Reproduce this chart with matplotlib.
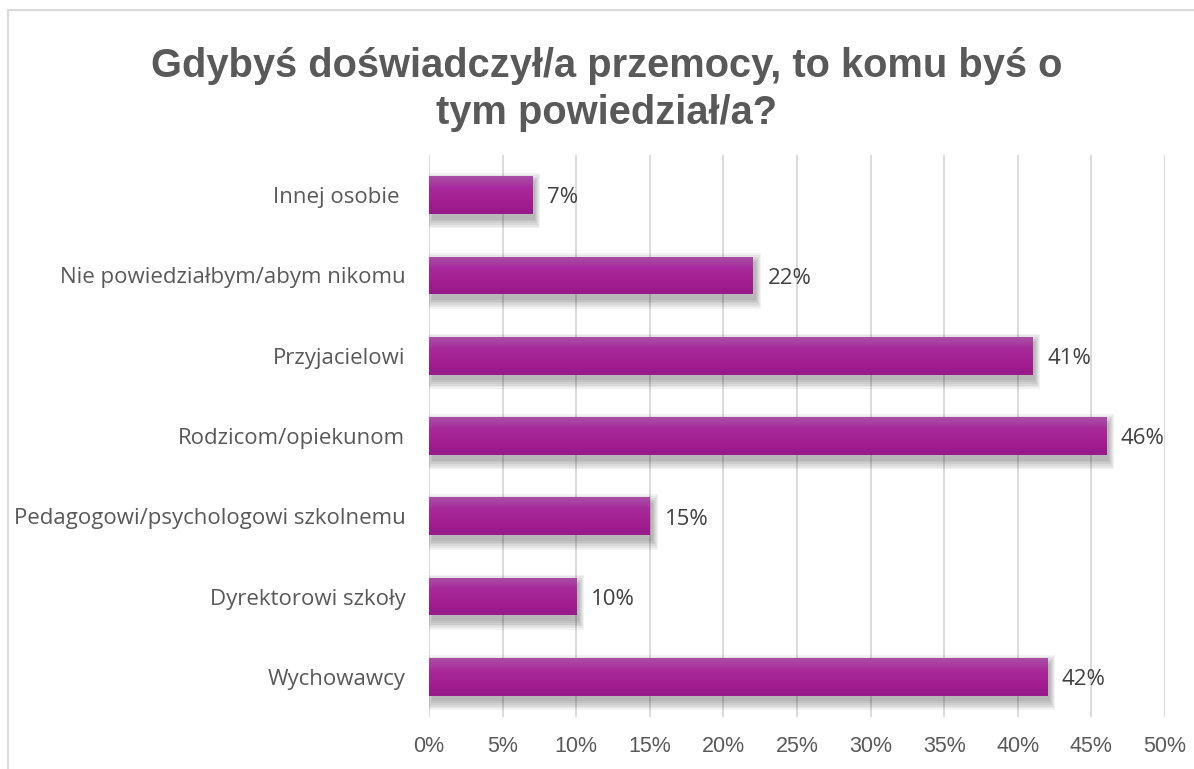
import numpy as np
import matplotlib.pyplot as plt
from matplotlib.patches import Rectangle
from matplotlib.lines import Line2D
from matplotlib.colors import LinearSegmentedColormap

plt.rcParams['font.family'] = ['Liberation Sans', 'DejaVu Sans']

categories = ['Innej osobie ', 'Nie powiedziałbym/abym nikomu', 'Przyjacielowi',
              'Rodzicom/opiekunom', 'Pedagogowi/psychologowi szkolnemu',
              'Dyrektorowi szkoły', 'Wychowawcy']
values = [7, 22, 41, 46, 15, 10, 42]
xticks = [0, 5, 10, 15, 20, 25, 30, 35, 40, 45, 50]
title = 'Gdybyś doświadczył/a przemocy, to komu byś o\ntym powiedział/a?'

grad = LinearSegmentedColormap.from_list('bar', ['#aa4fa6', '#a7299a', '#a31e91', '#961a89'])

fig = plt.figure(figsize=(11.94, 7.69), dpi=100)
ax = fig.add_axes([0.3593, 0.0676, 0.6164, 0.7308])

# chart area border (top and left visible)
fig.add_artist(Line2D([8 / 1194, 1.0], [1 - 10 / 769] * 2, color='#d9d9d9', lw=1.5))
fig.add_artist(Line2D([8 / 1194] * 2, [0, 1 - 10 / 769], color='#d9d9d9', lw=1.5))

y = np.arange(len(categories))
h = 0.47
grad_img = np.linspace(0, 1, 64).reshape(-1, 1)
for yi, v in zip(y, values):
    # soft shadow, shifted down / right
    for k in range(6):
        s = k * 0.022
        sh = Rectangle((0.2 - s * 3, yi - h / 2 + 0.07 - s), v + s * 6, h + s * 2,
                       facecolor='black', alpha=0.05, lw=0, zorder=2)
        ax.add_patch(sh)
    rect = Rectangle((0, yi - h / 2), v, h, facecolor='none', lw=0, zorder=3)
    ax.add_patch(rect)
    im = ax.imshow(grad_img, cmap=grad, aspect='auto', extent=(0, v, yi + h / 2, yi - h / 2),
                   origin='upper', zorder=3)
    im.set_clip_path(rect)
    ax.text(v + 1.0, yi + 0.035, f'{v}%', va='center', ha='left', fontsize=16, color='#404040',
            family=['Open Sans', 'DejaVu Sans'], zorder=4)

ax.set_xlim(0, 50)
ax.set_ylim(len(categories) - 0.5, -0.5)
ax.set_xticks(xticks)
ax.set_xticklabels([f'{t}%' for t in xticks])
ax.set_yticks(y)
ax.set_yticklabels(categories, family=['Open Sans', 'DejaVu Sans'])
ax.tick_params(axis='x', length=0, pad=14, labelsize=15.5, labelcolor='#595959')
ax.tick_params(axis='y', length=0, pad=17, labelsize=16, labelcolor='#595959')
ax.grid(axis='x', color='#d9d9d9', lw=1.3, zorder=0)
ax.set_axisbelow(True)
for s in ax.spines.values():
    s.set_visible(False)

fig.text(0.508, 0.884, title, ha='center', va='center', fontsize=28.7, fontweight='bold',
         color='#595959', linespacing=1.3)

fig.savefig('out.png', dpi=100)
